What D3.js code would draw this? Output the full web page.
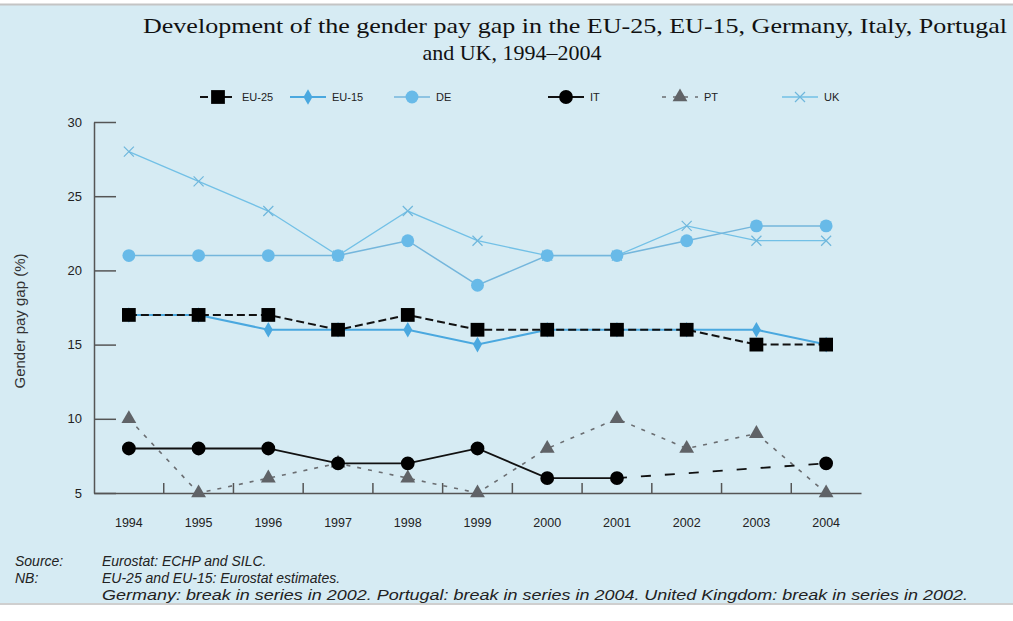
<!DOCTYPE html>
<html>
<head>
<meta charset="utf-8">
<script src="https://cdn.jsdelivr.net/npm/d3@7"></script>
<style>
  body { margin: 0; background: #fff; }
  svg { display: block; }
  .tick-label { font-family: "Liberation Sans Narrow", "Liberation Sans", sans-serif; fill: #222; }
  .note { font-family: "Liberation Sans", sans-serif; font-style: italic; font-size: 14px; fill: #222; }
</style>
</head>
<body>
<div id="chart"></div>
<script>
// ---- data ----
const years = ["1994", "1995", "1996", "1997", "1998", "1999", "2000", "2001", "2002", "2003", "2004"];
const eu25 = [17, 17, 17, 16, 17, 16, 16, 16, 16, 15, 15];
const eu15 = [17, 17, 16, 16, 16, 15, 16, 16, 16, 16, 15];
const de   = [21, 21, 21, 21, 22, 19, 21, 21, 22, 23, 23];
const it   = [8, 8, 8, 7, 7, 8, 6, 6, null, null, 7];
const pt   = [10, 5, 6, 7, 6, 5, 8, 10, 8, 9, 5];
const uk   = [28, 26, 24, 21, 24, 22, 21, 21, 23, 22, 22];
const yTicks = [5, 10, 15, 20, 25, 30];
const itBreakYear = "2001"; // IT line turns dashed after this year

const titleLines = [
  "Development of the gender pay gap in the EU-25, EU-15, Germany, Italy, Portugal",
  "and UK, 1994\u20132004"
];
const notes = [
  ["Source:", "Eurostat: ECHP and SILC."],
  ["NB:", "EU-25 and EU-15: Eurostat estimates."],
  ["", "Germany: break in series in 2002.  Portugal: break in series in 2004.  United Kingdom: break in series in 2002."]
];

const W = 1013, H = 621;
const svg = d3.select('#chart').append('svg').attr('width', W).attr('height', H);

// panel background
svg.append('rect').attr('x', 0).attr('y', 5).attr('width', W).attr('height', 598).attr('fill', '#d6ebf3');
svg.append('line').attr('x1', 0).attr('x2', W).attr('y1', 4.5).attr('y2', 4.5).attr('stroke', '#c4c4c4').attr('stroke-width', 2);
svg.append('line').attr('x1', 0).attr('x2', W).attr('y1', 604).attr('y2', 604).attr('stroke', '#cfcfcf').attr('stroke-width', 2);

// title
svg.append('text').attr('x', 143).attr('y', 33)
  .attr('textLength', 864).attr('lengthAdjust', 'spacingAndGlyphs')
  .style('font-family', '"Liberation Serif", serif').style('font-size', '22px').attr('fill', '#111')
  .text(titleLines[0]);
svg.append('text').attr('x', 512).attr('y', 60).attr('text-anchor', 'middle')
  .style('font-family', '"Liberation Serif", serif').style('font-size', '22px').attr('fill', '#111')
  .text(titleLines[1]);

// scales
const x = d3.scaleBand().domain(years).range([94, 861]);
const y = d3.scaleLinear().domain([5, 30]).range([493, 122]);
const cx = d => x(d.year) + x.bandwidth() / 2;

// y axis
const yAxis = svg.append('g').attr('transform', 'translate(94,0)')
  .call(d3.axisLeft(y).tickValues(yTicks).tickSizeInner(-22).tickSizeOuter(0).tickPadding(12));
yAxis.select('.domain').attr('stroke', '#555').attr('stroke-width', 1.5);
yAxis.selectAll('.tick line').attr('stroke', '#555').attr('stroke-width', 1.5);
yAxis.selectAll('.tick text').attr('class', 'tick-label').style('font-size', '13px').attr('fill', '#333');

svg.append('text')
  .attr('transform', 'translate(25,321) rotate(-90)')
  .attr('text-anchor', 'middle')
  .style('font-family', '"Liberation Sans", sans-serif').style('font-size', '15px').attr('fill', '#333')
  .text('Gender pay gap (%)');

// x axis
const xAxis = svg.append('g').attr('transform', 'translate(0,493)')
  .call(d3.axisBottom(x).tickSize(0).tickPadding(25));
xAxis.select('.domain').attr('stroke', '#555').attr('stroke-width', 1.5);
xAxis.selectAll('.tick text').attr('class', 'tick-label').style('font-size', '12.5px');
// small separators between years
svg.append('g').selectAll('line')
  .data(years.slice(1))
  .join('line')
  .attr('x1', d => x(d)).attr('x2', d => x(d))
  .attr('y1', 483).attr('y2', 493)
  .attr('stroke', '#555').attr('stroke-width', 1.5);

// series
const toPts = vals => years.map((yr, i) => ({ year: yr, value: vals[i] }));
const line = d3.line().defined(d => d.value != null).x(cx).y(d => y(d.value));

const series = [
  { name: 'UK', pts: toPts(uk), color: '#72c0e6', width: 1.3, dash: null, marker: 'x', mcolor: '#6fb7dc' },
  { name: 'DE', pts: toPts(de), color: '#74b6dc', width: 1.5, dash: null, marker: 'circle', mcolor: '#68bae8' },
  { name: 'EU-15', pts: toPts(eu15), color: '#4aa8df', width: 2, dash: null, marker: 'diamond', mcolor: '#4aa8df' },
  { name: 'EU-25', pts: toPts(eu25), color: '#111', width: 2, dash: '8,4', marker: 'square', mcolor: '#000' },
  { name: 'PT', pts: toPts(pt), color: '#6b6e72', width: 1.6, dash: '4,7', marker: 'triangle', mcolor: '#606367' },
  { name: 'IT', pts: toPts(it), color: '#111', width: 1.8, dash: null, marker: 'hex', mcolor: '#000' }
];

const markerPath = {
  square: d3.symbol(d3.symbolSquare, 190),
  circle: d3.symbol(d3.symbolCircle, 130),
  diamond: d3.symbol(d3.symbolDiamond, 70),
  triangle: d3.symbol(d3.symbolTriangle, 95),
  hex: d3.symbol(d3.symbolCircle, 150)
};

function drawMarker(g, type, color) {
  if (type === 'x') {
    g.append('path').attr('d', 'M-5,-5L5,5M-5,5L5,-5')
      .attr('stroke', color).attr('stroke-width', 1.2).attr('fill', 'none');
  } else {
    g.append('path').attr('d', markerPath[type]()).attr('fill', color);
  }
}

const plot = svg.append('g');
series.forEach(s => {
  const g = plot.append('g').attr('class', 'series');
  let solidPts = s.pts;
  if (s.name === 'IT') {
    const bi = years.indexOf(itBreakYear);
    solidPts = s.pts.slice(0, bi + 1);
    const tail = s.pts.slice(bi).filter(d => d.value != null);
    g.append('path').datum(tail).attr('d', line)
      .attr('fill', 'none').attr('stroke', s.color).attr('stroke-width', s.width)
      .attr('stroke-dasharray', '10,14');
  }
  g.append('path').datum(solidPts).attr('d', line)
    .attr('fill', 'none').attr('stroke', s.color).attr('stroke-width', s.width)
    .attr('stroke-dasharray', s.dash);
  g.selectAll('.m').data(s.pts.filter(d => d.value != null)).join('g')
    .attr('class', 'm')
    .attr('transform', d => `translate(${cx(d)},${y(d.value)})`)
    .each(function () { drawMarker(d3.select(this), s.marker, s.mcolor); });
});

// legend
const legendPos = { 'EU-25': 218, 'EU-15': 308, 'DE': 412, 'IT': 566, 'PT': 680, 'UK': 800 };
const legendOrder = ['EU-25', 'EU-15', 'DE', 'IT', 'PT', 'UK'];
const lg = svg.append('g').attr('transform', 'translate(0,97)');
legendOrder.forEach(name => {
  const s = series.find(d => d.name === name);
  const mx = legendPos[name];
  const item = lg.append('g');
  item.append('line').attr('x1', mx - 18).attr('x2', mx + 18)
    .attr('stroke', s.color).attr('stroke-width', s.width)
    .attr('stroke-dasharray', name === 'IT' ? null : s.dash);
  drawMarker(item.append('g').attr('transform', `translate(${mx},0)`), s.marker, s.mcolor);
  item.append('text').attr('x', mx + 24).attr('y', 4)
    .attr('class', 'tick-label').style('font-size', '11px').text(name);
});

// notes
notes.forEach((n, i) => {
  const yy = 566 + i * 17;
  if (n[0]) svg.append('text').attr('class', 'note').attr('x', 15).attr('y', yy).text(n[0]);
  const t = svg.append('text').attr('class', 'note').attr('x', 102).attr('y', yy).text(n[1]);
  if (i === 2) t.attr('textLength', 866).attr('lengthAdjust', 'spacingAndGlyphs');
});
</script>
</body>
</html>
